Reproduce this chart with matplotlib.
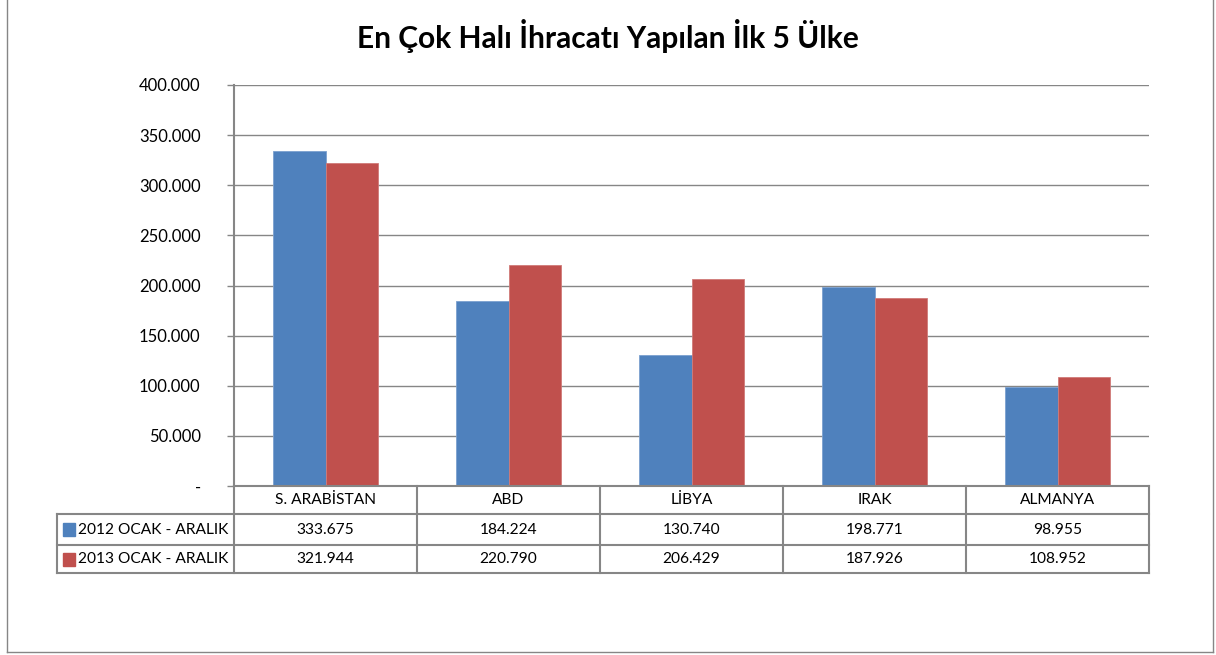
import matplotlib.pyplot as plt
import numpy as np
from matplotlib.lines import Line2D
from matplotlib.patches import Rectangle
from matplotlib.ticker import FuncFormatter

# data
countries = ['S. ARABİSTAN', 'ABD', 'LİBYA', 'IRAK', 'ALMANYA']
series_names = ['2012 OCAK - ARALIK', '2013 OCAK - ARALIK']
values_2012 = [333675, 184224, 130740, 198771, 98955]
values_2013 = [321944, 220790, 206429, 187926, 108952]
colors = ['#4F81BD', '#C0504D']

plt.rcParams['font.family'] = ['Lato', 'DejaVu Sans']

W, H = 1216, 655
fig = plt.figure(figsize=(W / 100, H / 100), dpi=100)

def fx(x):
    return x / W

def fy(y):
    return 1 - y / H

# plot area in pixels
L, R, T, B = 234, 1149, 85, 486
ax = fig.add_axes([fx(L), fy(B), fx(R) - fx(L), fy(T) - fy(B)])

grid_c = '#868686'
x = np.arange(len(countries))
bw = 0.285
ax.bar(x - bw / 2, values_2012, bw, color=colors[0], edgecolor='#7ba0cf', linewidth=0.6, zorder=3)
ax.bar(x + bw / 2, values_2013, bw, color=colors[1], edgecolor='#d07a78', linewidth=0.6, zorder=3)

ax.set_xlim(-0.5, len(countries) - 0.5)
ax.set_ylim(0, 400000)
ax.set_yticks(np.arange(0, 400001, 50000))
ax.yaxis.set_major_formatter(FuncFormatter(
    lambda v, p: '-' if v == 0 else f'{int(v):,}'.replace(',', '.')))
ax.set_xticks([])
ax.grid(axis='y', color=grid_c, linewidth=1.0, zorder=0)
ax.tick_params(axis='y', length=5, color=grid_c, width=1.0, labelsize=12, pad=19)
for s in ['top', 'right', 'bottom']:
    ax.spines[s].set_visible(False)
ax.spines['left'].set_color(grid_c)
ax.spines['left'].set_linewidth(1.5)

# data table below
row_y = [486, 514, 545, 573]
tab_left = 57
cat_w = (R - L) / len(countries)
lw = 1.5
fs = 11.2

def hline(y, x0, x1, w=lw):
    fig.add_artist(Line2D([fx(x0), fx(x1)], [fy(y), fy(y)], color=grid_c, lw=w))

def vline(x0, y0, y1, w=lw):
    fig.add_artist(Line2D([fx(x0), fx(x0)], [fy(y0), fy(y1)], color=grid_c, lw=w))

hline(row_y[0], L, R)
for y in row_y[1:]:
    hline(y, tab_left, R)
vline(tab_left, row_y[1], row_y[3])
for i in range(len(countries) + 1):
    vline(L + i * cat_w, row_y[0], row_y[3])

for i, c in enumerate(countries):
    cx = L + (i + 0.5) * cat_w
    fig.text(fx(cx), fy((row_y[0] + row_y[1]) / 2), c, ha='center', va='center', fontsize=fs)
    for r, vals in enumerate([values_2012, values_2013]):
        fig.text(fx(cx), fy((row_y[r + 1] + row_y[r + 2]) / 2),
                 f'{vals[i]:,}'.replace(',', '.'), ha='center', va='center', fontsize=fs)

for r, name in enumerate(series_names):
    yc = (row_y[r + 1] + row_y[r + 2]) / 2
    fig.add_artist(Rectangle((fx(63), fy(yc + 6.5)), fx(12), fy(0) - fy(13),
                             transform=fig.transFigure, color=colors[r]))
    fig.text(fx(78), fy(yc), name, ha='left', va='center', fontsize=fs)

fig.text(0.5, fy(36), 'En Çok Halı İhracatı Yapılan İlk 5 Ülke',
         ha='center', va='center', fontsize=21.5, fontweight='bold')

# outer border (no top edge)
vline(7, 0, 652, 1.0)
vline(1213, 0, 652, 1.0)
hline(652, 7, 1213, 1.0)

plt.savefig('out.png', dpi=100)
